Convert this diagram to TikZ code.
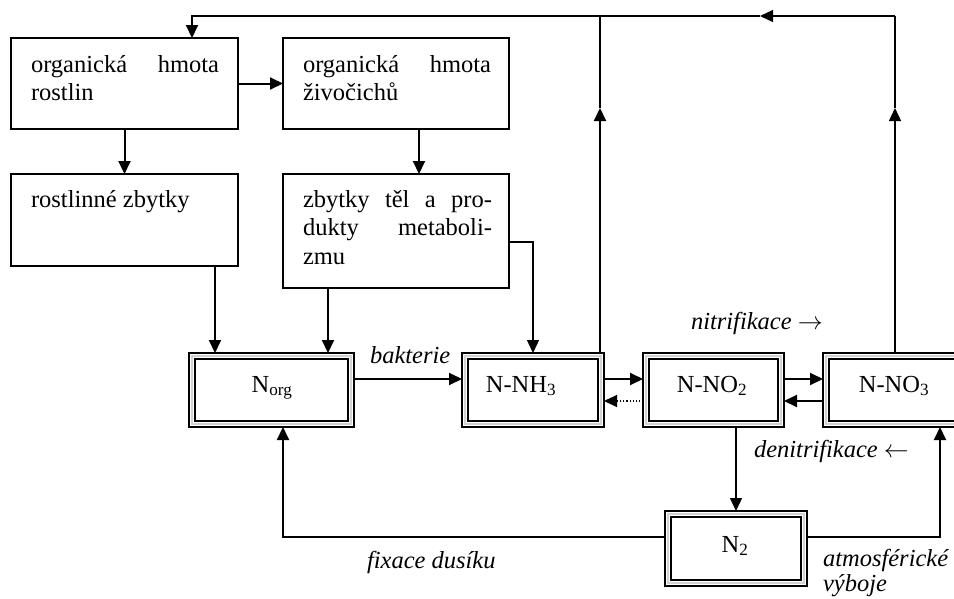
\documentclass[tikz,border=0pt]{standalone}
\usepackage{fontspec}
\setmainfont{Liberation Serif}
\usetikzlibrary{arrows.meta,calc}
\begin{document}
\begin{tikzpicture}[x=1pt,y=-1pt,
  every node/.style={font=\fontsize{24.5}{28.5}\selectfont},
  box/.style={draw, line width=2.2pt, inner sep=0pt, outer sep=0pt, anchor=north west},
  dbox/.style={draw, line width=2.6pt, inner sep=0pt, outer sep=0pt, anchor=north west},
  txt/.style={inner sep=0pt, outer sep=0pt, anchor=base west, align=left},
  lbl/.style={inner sep=0pt, outer sep=0pt, anchor=base},
  ilbl/.style={inner sep=0pt, outer sep=0pt, anchor=base west, font=\fontsize{24.5}{28.5}\selectfont\itshape},
  ln/.style={line width=2pt},
  thinln/.style={line width=1.3pt},
  arr/.style={line width=2pt, -{Triangle[length=13pt,width=12pt]}},
  thinarr/.style={line width=1.3pt, -{Triangle[length=13pt,width=12pt]}},
  dotarr/.style={line width=1.1pt, dotted, -{Triangle[length=13pt,width=12pt]}}
]
\path[use as bounding box, clip] (0,0) rectangle (954,598);

% single boxes
\node[box, minimum width=227pt, minimum height=91pt] (A) at (11,38) {};
\node[box, minimum width=226pt, minimum height=91pt] (B) at (283,38) {};
\node[box, minimum width=227pt, minimum height=92pt] (C) at (11,174) {};
\node[box, minimum width=226pt, minimum height=114pt] (D) at (283,174) {};

\node[txt] (At) at (31,72) {\parbox[t]{188pt}{\makebox[188pt][s]{organická hmota}\\rostlin}};
\node[txt] (Bt) at (303,72) {\parbox[t]{188pt}{\makebox[188pt][s]{organická hmota}\\živočichů}};
\node[txt] (Ct) at (31,207) {rostlinné zbytky};
\node[txt] (Dt) at (303,207) {\parbox[t]{189pt}{\makebox[189pt][s]{zbytky těl a pro-}\\\makebox[189pt][s]{dukty metaboli-}\\zmu}};

% double boxes
\node[dbox, minimum width=165pt, minimum height=74pt] (Norg) at (189,353) {};
\node[dbox, minimum width=142pt, minimum height=74pt] (NH3) at (462,353) {};
\node[dbox, minimum width=141pt, minimum height=74pt] (NO2) at (643,353) {};
\node[dbox, minimum width=152pt, minimum height=74pt] (NO3) at (823,353) {};
\node[dbox, minimum width=142pt, minimum height=75pt] (N2) at (665,511) {};
\foreach \n in {Norg,NH3,NO2,NO3,N2}{
  \draw[gray!35, line width=1.6pt] ($(\n.north west)+(3.2,3.2)$) rectangle ($(\n.south east)+(-3.2,-3.2)$);
  \draw[line width=1.8pt] ($(\n.north west)+(6.2,6.2)$) rectangle ($(\n.south east)+(-6.2,-6.2)$);
}

\node[lbl] (NorgT) at (272,392) {N\textsubscript{org}};
\node[lbl] (NH3T) at (521,392) {N-NH\textsubscript{3}};
\node[lbl] (NO2T) at (712,392) {N-NO\textsubscript{2}};
\node[lbl] (NO3T) at (894,392) {N-NO\textsubscript{3}};
\node[lbl] (N2T) at (735,552) {N\textsubscript{2}};

% labels
\node[ilbl] (bakt) at (370,363) {bakterie};
\node[ilbl] (nitr) at (691,329) {nitrifikace $\rightarrow$};
\node[ilbl] (denitr) at (754,457) {denitrifikace $\leftarrow$};
\node[ilbl] (fix) at (367,568) {fixace dusíku};
\node[ilbl] (atm1) at (823,566) {atmosférické};
\node[ilbl] (atm2) at (823,591) {výboje};

% coordinates for the top loop
\coordinate (u1) at (600,108);
\coordinate (u2) at (895,108);
\coordinate (c1) at (600,16);
\coordinate (c2) at (895,16);
\coordinate (c3) at (192,16);
\coordinate (m) at (760,16);

% connectors
\draw[arr] (A.east) -- (B.west);
\draw[arr] (A.south) -- (C.north);
\draw[arr] ([xshift=23pt]B.south) -- ([xshift=23pt]D.north);
\draw[arr] ([xshift=90.5pt]C.south) -- ([xshift=90.5pt]C.south |- Norg.north);
\draw[arr] ([xshift=-68pt]D.south) -- ([xshift=-68pt]D.south |- Norg.north);
\draw[thinarr] ([yshift=-11pt]D.east) -| (NH3.north);

\draw[arr] ([xshift=-4pt]NH3.north east) -- (u1);
\draw[ln] (u1) -- (c1);
\draw[thinarr] (u2 |- NO3.north) -- (u2);
\draw[ln] (u2) -- (c2);
\draw[thinarr] (c2) -- (m);
\draw[arr] (m) -- (c3) -- (c3 |- A.north);

\draw[arr] ([yshift=11pt]Norg.east) -- ([yshift=11pt]NH3.west);
\draw[arr] ([yshift=11pt]NH3.east) -- ([yshift=11pt]NO2.west);
\draw[dotarr] ([yshift=-11pt]NO2.west) -- ([yshift=-11pt]NH3.east);
\draw[arr] ([yshift=11pt]NO2.east) -- ([yshift=11pt]NO3.west);
\draw[arr] ([yshift=-11pt]NO3.west) -- ([yshift=-11pt]NO2.east);
\draw[thinarr] (N2.north |- NO2.south) -- (N2.north);
\draw[arr] ([yshift=11.5pt]N2.west) -| ([xshift=11.5pt]Norg.south);
\draw[arr] ([yshift=11.5pt]N2.east) -| ([xshift=41pt]NO3.south);
\end{tikzpicture}
\end{document}
